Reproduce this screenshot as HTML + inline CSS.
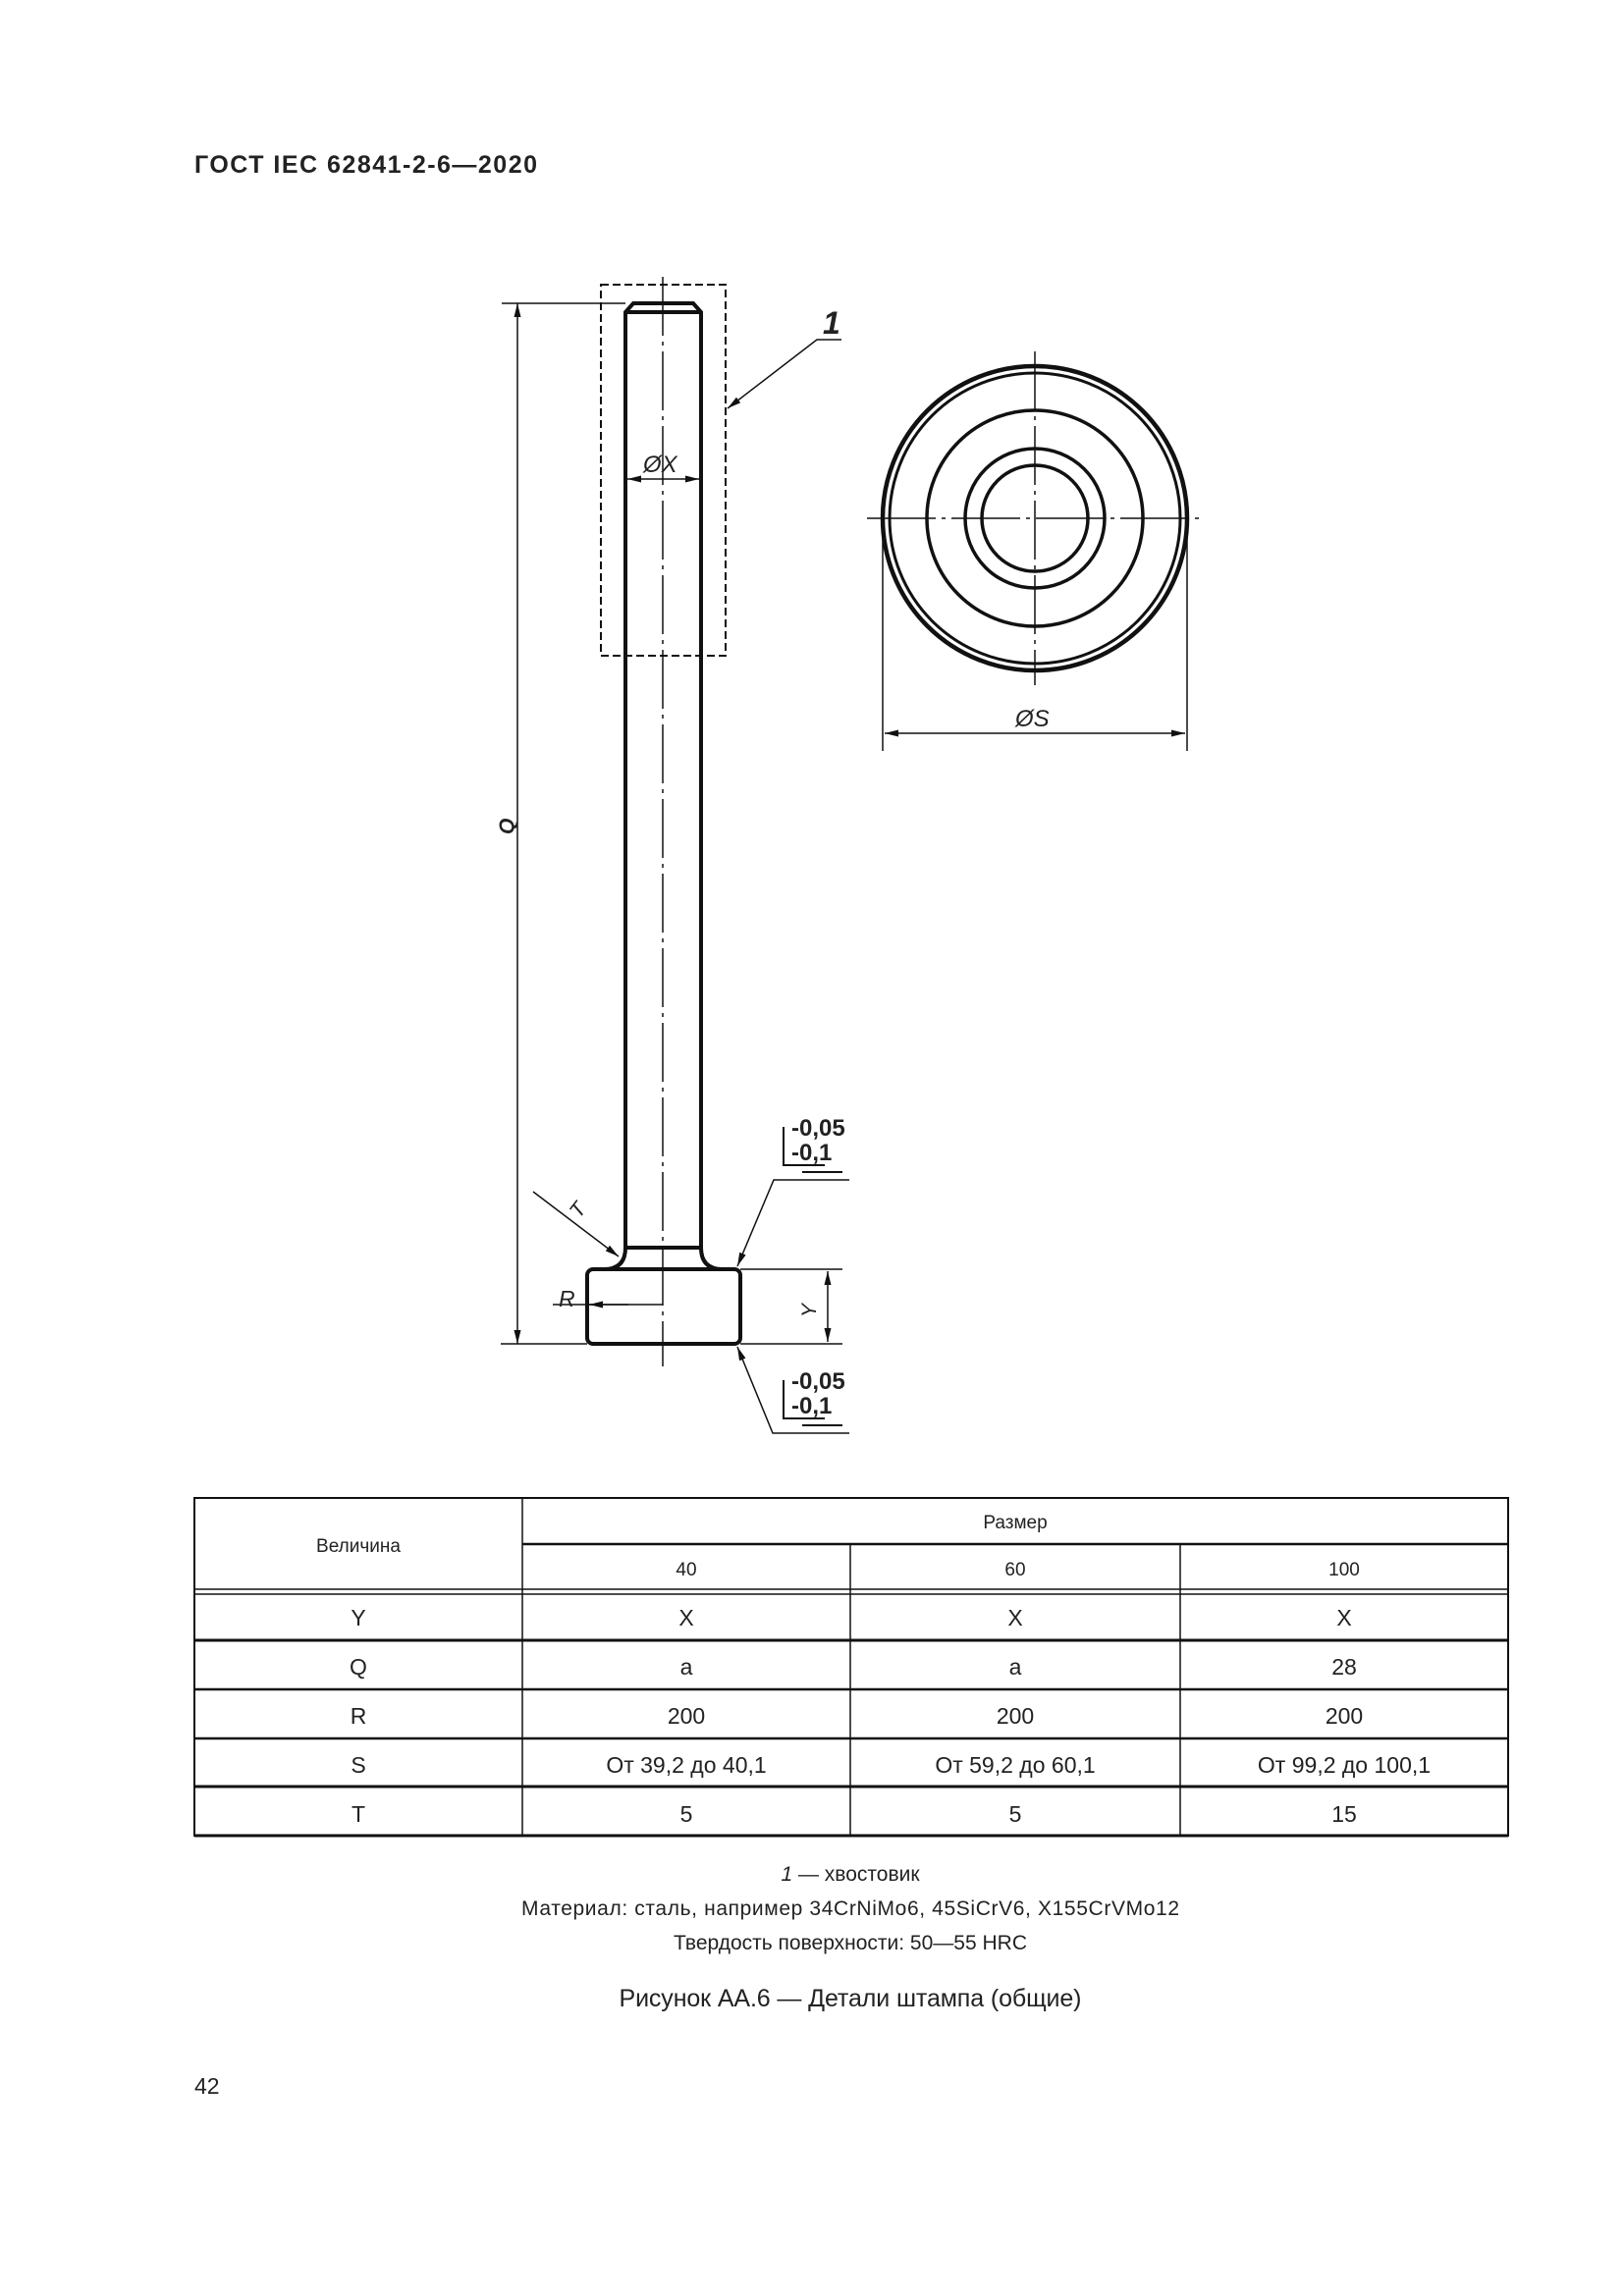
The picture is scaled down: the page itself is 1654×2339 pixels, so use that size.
<!DOCTYPE html>
<html><head><meta charset="utf-8"><style>
html,body{margin:0;padding:0;background:#fff}
svg{display:block}
text{font-family:"Liberation Sans",sans-serif;fill:#222}
</style></head><body>
<svg width="1654" height="2339" viewBox="0 0 1654 2339" xmlns="http://www.w3.org/2000/svg">
<defs>
<marker id="a" viewBox="0 0 12 6" refX="12" refY="3" markerWidth="14" markerHeight="7" orient="auto-start-reverse" markerUnits="userSpaceOnUse"><path d="M0,0 L12,3 L0,6 z" fill="#111"/></marker>
</defs>
<text x="198" y="176" font-size="25" font-weight="bold" textLength="349">ГОСТ IEC 62841-2-6—2020</text>

<g stroke="#111" fill="none">
<rect x="612" y="290" width="127" height="378" stroke-width="2" stroke-dasharray="8,4"/>
<line x1="675" y1="282" x2="675" y2="1392" stroke-width="1.5" stroke-dasharray="60,6,4,6"/>
<path d="M637,1271 L637,318 L645,309 L706,309 L714,318 L714,1271" stroke-width="4"/>
<line x1="637" y1="318" x2="714" y2="318" stroke-width="4"/>
<line x1="637" y1="1271" x2="714" y2="1271" stroke-width="4"/>
<path d="M637,1271 Q637,1293 615,1293 M714,1271 Q714,1293 736,1293" stroke-width="4"/>
<rect x="598" y="1293" width="156" height="76" rx="6" stroke-width="4"/>
<line x1="511" y1="309" x2="637" y2="309" stroke-width="1.5"/>
<line x1="510" y1="1369" x2="598" y2="1369" stroke-width="1.5"/>
<line x1="527" y1="309" x2="527" y2="1369" stroke-width="1.5" marker-start="url(#a)" marker-end="url(#a)"/>
<line x1="639" y1="488" x2="712" y2="488" stroke-width="1.5" marker-start="url(#a)" marker-end="url(#a)"/>
<polyline points="857,346 832,346 741,416" stroke-width="1.5" marker-end="url(#a)"/>
<circle cx="1054" cy="528" r="155" stroke-width="4.5"/>
<circle cx="1054" cy="528" r="148" stroke-width="3"/>
<circle cx="1054" cy="528" r="110" stroke-width="3.5"/>
<circle cx="1054" cy="528" r="71" stroke-width="3.5"/>
<circle cx="1054" cy="528" r="54" stroke-width="3.5"/>
<line x1="1054" y1="358" x2="1054" y2="698" stroke-width="1.5" stroke-dasharray="60,6,4,6"/>
<line x1="883" y1="528" x2="1225" y2="528" stroke-width="1.5" stroke-dasharray="70,6,4,6"/>
<line x1="899" y1="528" x2="899" y2="765" stroke-width="1.5"/>
<line x1="1209" y1="528" x2="1209" y2="765" stroke-width="1.5"/>
<line x1="901" y1="747" x2="1207" y2="747" stroke-width="1.5" marker-start="url(#a)" marker-end="url(#a)"/>
<line x1="754" y1="1293" x2="858" y2="1293" stroke-width="1.5"/>
<line x1="754" y1="1369" x2="858" y2="1369" stroke-width="1.5"/>
<line x1="843" y1="1295" x2="843" y2="1367" stroke-width="1.5" marker-start="url(#a)" marker-end="url(#a)"/>
<line x1="563" y1="1329" x2="675" y2="1329" stroke-width="1.5"/>
<line x1="640" y1="1329" x2="600" y2="1329" stroke-width="1.5" marker-end="url(#a)"/>
<line x1="543" y1="1214" x2="630" y2="1280" stroke-width="1.5" marker-end="url(#a)"/>
<polyline points="865,1202 788,1202 751,1290" stroke-width="1.5" marker-end="url(#a)"/>
<polyline points="865,1460 787,1460 751,1372" stroke-width="1.5" marker-end="url(#a)"/>
<polyline points="798,1148 798,1187 840,1187" stroke-width="2"/>
<line x1="817" y1="1194" x2="858" y2="1194" stroke-width="2"/>
<polyline points="798,1406 798,1445 840,1445" stroke-width="2"/>
<line x1="817" y1="1452" x2="858" y2="1452" stroke-width="2"/>
</g>
<g font-style="italic">
<text x="655" y="481" font-size="24">ØX</text>
<text x="1034" y="740" font-size="24">ØS</text>
<text x="838" y="340" font-size="32" font-weight="bold">1</text>
<text x="569" y="1331" font-size="23">R</text>
<text transform="translate(523,850) rotate(-90)" font-size="21" font-weight="bold">Q</text>
<text transform="translate(831,1342) rotate(-90)" font-size="21">Y</text>
<text transform="translate(590,1242) rotate(-52)" font-size="21">T</text>
</g>
<g font-size="24" font-weight="bold">
<text x="806" y="1157">-0,05</text>
<text x="806" y="1182">-0,1</text>
<text x="806" y="1415">-0,05</text>
<text x="806" y="1440">-0,1</text>
</g>

<g stroke="#111" fill="none">
<rect x="198" y="1526" width="1338" height="344" stroke-width="2"/>
<line x1="532" y1="1526" x2="532" y2="1870" stroke-width="1.5"/>
<line x1="866" y1="1573" x2="866" y2="1870" stroke-width="1.5"/>
<line x1="1202" y1="1573" x2="1202" y2="1870" stroke-width="1.5"/>
<line x1="532" y1="1573" x2="1536" y2="1573" stroke-width="2.5"/>
<line x1="198" y1="1619" x2="1536" y2="1619" stroke-width="1.5"/>
<line x1="198" y1="1624" x2="1536" y2="1624" stroke-width="1.5"/>
<line x1="198" y1="1671" x2="1536" y2="1671" stroke-width="3"/>
<line x1="198" y1="1721" x2="1536" y2="1721" stroke-width="2.5"/>
<line x1="198" y1="1771" x2="1536" y2="1771" stroke-width="2.5"/>
<line x1="198" y1="1820" x2="1536" y2="1820" stroke-width="3"/>
<line x1="198" y1="1870" x2="1536" y2="1870" stroke-width="3"/>
</g>
<g text-anchor="middle" font-size="19">
<text x="365" y="1581">Величина</text>
<text x="1034" y="1557">Размер</text>
<text x="699" y="1605">40</text>
<text x="1034" y="1605">60</text>
<text x="1369" y="1605">100</text>
</g>
<g text-anchor="middle" font-size="23">
<text x="365" y="1656">Y</text><text x="699" y="1656">X</text><text x="1034" y="1656">X</text><text x="1369" y="1656">X</text>
<text x="365" y="1706">Q</text><text x="699" y="1706">a</text><text x="1034" y="1706">a</text><text x="1369" y="1706">28</text>
<text x="365" y="1756">R</text><text x="699" y="1756">200</text><text x="1034" y="1756">200</text><text x="1369" y="1756">200</text>
<text x="365" y="1806">S</text><text x="699" y="1806">От 39,2 до 40,1</text><text x="1034" y="1806">От 59,2 до 60,1</text><text x="1369" y="1806">От 99,2 до 100,1</text>
<text x="365" y="1856">T</text><text x="699" y="1856">5</text><text x="1034" y="1856">5</text><text x="1369" y="1856">15</text>
</g>

<g text-anchor="middle" font-size="21">
<text x="866" y="1916"><tspan font-style="italic">1</tspan> — хвостовик</text>
<text x="866" y="1951" textLength="670">Материал: сталь, например 34CrNiMo6, 45SiCrV6, X155CrVMo12</text>
<text x="866" y="1986">Твердость поверхности: 50—55 HRC</text>
<text x="866" y="2044" font-size="25" textLength="471">Рисунок АА.6 — Детали штампа (общие)</text>
</g>
<text x="198" y="2133" font-size="23">42</text>
</svg>
</body></html>
